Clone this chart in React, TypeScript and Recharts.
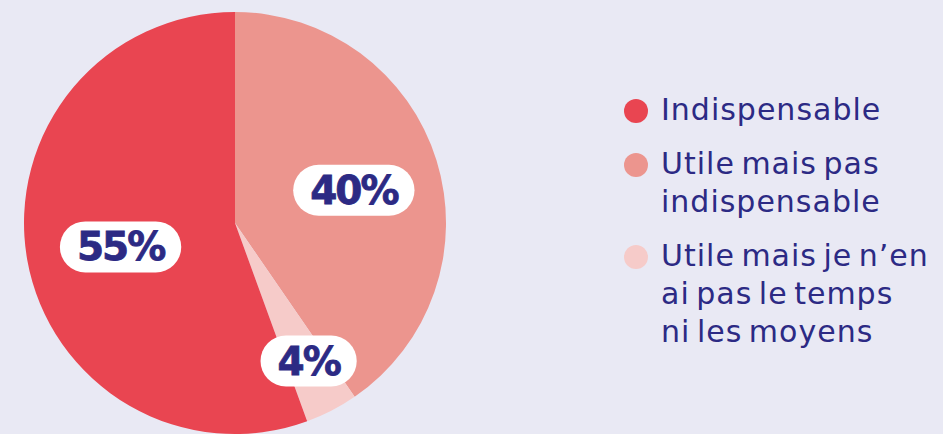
import React from "react";
import { PieChart, Pie, Cell, Legend } from "recharts";

const categories = ["Indispensable", "Utile mais pas indispensable", "Utile mais je n’en ai pas le temps ni les moyens"];
const legendLines = [["Indispensable"], ["Utile mais pas", "indispensable"], ["Utile mais je n’en", "ai pas le temps", "ni les moyens"]];
const values = [55, 40, 4];
const colors = ["#E94551", "#EC958E", "#F6CBC9"];
// drawing order (clockwise from top): 40%, 4%, 55%
const order = [1, 2, 0];

const NAVY = "#2C2A84";
const BG = "#E9E9F4";

const data = order.map((i) => ({ name: categories[i], value: values[i], color: colors[i] }));

const LABEL_FONT = "bold 39px 'DejaVu Sans'";

function measure(text: string): number {
  try {
    const c = document.createElement("canvas").getContext("2d");
    if (c) {
      c.font = LABEL_FONT;
      return c.measureText(text).width - 2 * (text.length - 1);
    }
  } catch (e) {}
  return text.length * 28;
}

const RAD = Math.PI / 180;

function renderLabel(props: any) {
  const { cx, cy, midAngle, outerRadius, percent, value } = props;
  const r = outerRadius * (percent < 0.1 ? 0.72 : 0.57);
  const x = cx + r * Math.cos(-midAngle * RAD) + 4;
  const y = cy + r * Math.sin(-midAngle * RAD) + 3;
  const text = `${value}%`;
  const w = measure(text) + 32;
  const h = 51;
  return (
    <g>
      <rect x={x - w / 2} y={y - h / 2} width={w} height={h} rx={h / 2} ry={h / 2} fill="#FFFFFF" />
      <text
        x={x}
        y={y}
        textAnchor="middle"
        dominantBaseline="central"
        fill={NAVY}
        fontFamily="'DejaVu Sans'"
        fontWeight="bold"
        fontSize={39}
        letterSpacing={-2}
        stroke={NAVY}
        strokeWidth={0.8}
      >
        {text}
      </text>
    </g>
  );
}

function LegendContent() {
  return (
    <div
      style={{
        fontFamily: "'DejaVu Sans'",
        color: NAVY,
        fontSize: 30,
        lineHeight: "38px",
        letterSpacing: 1.0,
        wordSpacing: -4,
      }}
    >
      {categories.map((c, i) => (
        <div key={c} style={{ display: "flex", alignItems: "flex-start", marginBottom: 16 }}>
          <div
            style={{
              width: 24,
              height: 24,
              borderRadius: 12,
              background: colors[i],
              marginTop: 8,
              marginRight: 13,
              flex: "0 0 auto",
            }}
          />
          <div style={{ whiteSpace: "nowrap" }}>
            {legendLines[i].map((l) => (
              <div key={l}>{l}</div>
            ))}
          </div>
        </div>
      ))}
    </div>
  );
}

export default function App() {
  return (
    <div style={{ width: 943, height: 434, background: BG, position: "relative", overflow: "hidden" }}>
      <style>{`body{margin:0;background:${BG};}`}</style>
      <PieChart width={943} height={434} margin={{ top: 0, right: 0, bottom: 0, left: 0 }}>
        <Pie
          data={data}
          dataKey="value"
          nameKey="name"
          cx={235}
          cy={223}
          outerRadius={211}
          startAngle={90}
          endAngle={-270}
          stroke="none"
          label={renderLabel}
          labelLine={false}
          isAnimationActive={false}
        >
          {data.map((d) => (
            <Cell key={d.name} fill={d.color} />
          ))}
        </Pie>
        <Legend
          content={<LegendContent />}
          wrapperStyle={{ left: 624, top: 91, width: 319 }}
          layout="vertical"
        />
      </PieChart>
    </div>
  );
}
